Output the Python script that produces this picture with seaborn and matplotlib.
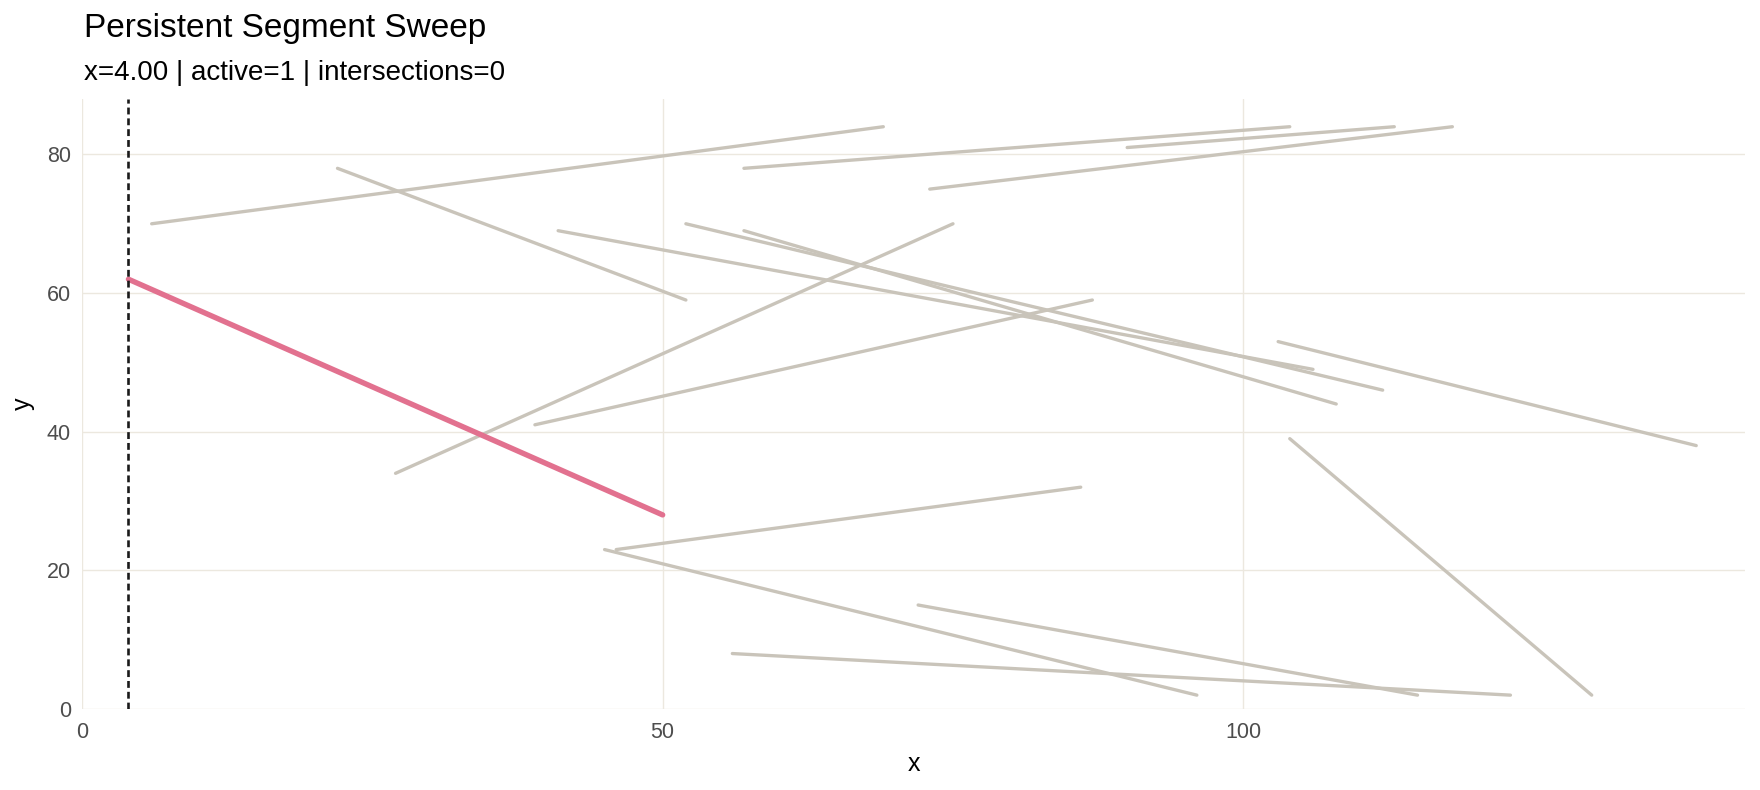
import matplotlib
matplotlib.use("Agg")
import matplotlib.pyplot as plt
import seaborn as sns
import pandas as pd

# segment endpoints
x0 = [6, 22, 27, 39, 41, 52, 57, 57, 90, 73, 103, 104, 46, 45, 72, 56]
y0 = [70, 78, 34, 41, 69, 70, 69, 78, 81, 75, 53, 39, 23, 23, 15, 8]
x1 = [69, 52, 75, 87, 106, 112, 108, 104, 113, 118, 139, 130, 86, 96, 115, 123]
y1 = [84, 59, 70, 59, 49, 46, 44, 84, 84, 84, 38, 2, 32, 2, 2, 2]

# the currently active segment
active_x = [4, 50]
active_y = [62, 28]

sweep_x = 4.0
n_active = 1
n_inter = 0

sns.set_theme(style="whitegrid")
plt.rcParams['font.family'] = ['Liberation Sans', 'DejaVu Sans']

rows = []
for i in range(len(x0)):
    rows.append({'seg': i, 'x': x0[i], 'y': y0[i]})
    rows.append({'seg': i, 'x': x1[i], 'y': y1[i]})
df = pd.DataFrame(rows)
act = pd.DataFrame({'seg': 0, 'x': active_x, 'y': active_y})

fig = plt.figure(figsize=(17.6, 7.9), dpi=100)
ax = fig.add_axes([82 / 1760, 1 - 709 / 790, (1745 - 82) / 1760, (709 - 99) / 790])

sns.lineplot(data=df, x='x', y='y', units='seg', estimator=None, sort=False,
             color='#c9c4ba', linewidth=2.4, ax=ax)
sns.lineplot(data=act, x='x', y='y', units='seg', estimator=None, sort=False,
             color='#e2718f', linewidth=3.9, ax=ax)
ax.axvline(sweep_x, color='#1a1a1a', linestyle=(0, (2.6, 1.5)), linewidth=1.9)

ax.set_xlim(0, 143.2)
ax.set_ylim(0, 88)
ax.set_xticks([0, 50, 100])
ax.set_yticks([0, 20, 40, 60, 80])
ax.grid(True, color='#ece8df', linewidth=1.0)
for s in ax.spines.values():
    s.set_visible(False)
ax.tick_params(axis='both', labelsize=15.5, colors='#4d4d4d', length=0)
ax.tick_params(axis='x', pad=9)
ax.tick_params(axis='y', pad=8)
ax.set_xlabel('x', fontsize=18, color='black')
ax.set_ylabel('y', fontsize=18, color='black')
ax.xaxis.set_label_coords(0.5, (709 - 752) / 610)
ax.yaxis.set_label_coords((35 - 82) / 1663, 0.5)

fig.text(84 / 1760, 1 - 37 / 790, 'Persistent Segment Sweep', fontsize=24,
         va='baseline', ha='left', color='black')
fig.text(84 / 1760, 1 - 80 / 790,
         f'x={sweep_x:.2f} | active={n_active} | intersections={n_inter}',
         fontsize=20, va='baseline', ha='left', color='black')

fig.savefig('out.png', dpi=100, facecolor='white')
